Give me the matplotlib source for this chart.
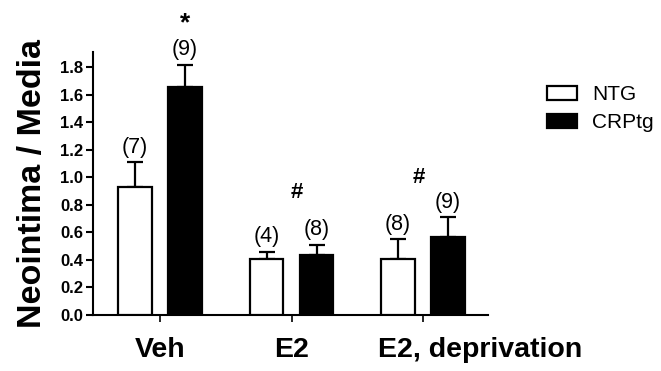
import numpy as np
import matplotlib.pyplot as plt
from matplotlib.transforms import ScaledTranslation

# data
groups = ["Veh", "E2", "E2, deprivation"]
ntg_mean = [0.93, 0.41, 0.405]
ntg_err = [0.18, 0.05, 0.145]
crp_mean = [1.655, 0.436, 0.57]
crp_err = [0.165, 0.075, 0.14]
ntg_n = ["(7)", "(4)", "(8)"]
crp_n = ["(9)", "(8)", "(9)"]
marks = ["*", "#", "#"]

plt.rcParams["font.family"] = ["Liberation Sans", "DejaVu Sans"]

fig = plt.figure(figsize=(6.61, 3.71), dpi=100)
ax = fig.add_axes([0.1407, 0.151, 0.597, 0.709])

x = np.arange(len(groups))
offset = 0.19
width = 0.255

err_kw = dict(elinewidth=1.6, capthick=1.6, capsize=6, ecolor="black")

ax.bar(x - offset, ntg_mean, width, color="white", edgecolor="black",
       linewidth=1.6, label="NTG", zorder=3)
ax.errorbar(x - offset, ntg_mean, yerr=[np.zeros(3), ntg_err], fmt="none",
            zorder=2, **err_kw)
ax.bar(x + offset, crp_mean, width, color="black", edgecolor="black",
       linewidth=1.6, label="CRPtg", zorder=3)
ax.errorbar(x + offset, crp_mean, yerr=[np.zeros(3), crp_err], fmt="none",
            zorder=2, **err_kw)

# n labels above the error bars
for i in range(len(groups)):
    ax.text(x[i] - offset, ntg_mean[i] + ntg_err[i] + 0.035, ntg_n[i],
            ha="center", va="bottom", fontsize=15.5, clip_on=False)
    ax.text(x[i] + offset, crp_mean[i] + crp_err[i] + 0.035, crp_n[i],
            ha="center", va="bottom", fontsize=15.5, clip_on=False)

# significance marks
ax.text(x[0] + offset, 2.12, marks[0], ha="center", va="center",
        fontsize=19, fontweight="bold", clip_on=False)
ax.text(x[1] + 0.04, 0.89, marks[1], ha="center", va="center",
        fontsize=16, fontweight="bold")
ax.text(x[2] - 0.03, 1.0, marks[2], ha="center", va="center",
        fontsize=16, fontweight="bold")

ax.set_xlim(-0.51, 2.49)
ax.set_ylim(0, 1.913)
yt = np.arange(0, 1.81, 0.2)
ax.set_yticks(yt)
ax.set_yticklabels([f"{v:.1f}" for v in yt], fontsize=12, fontweight="bold")
ax.set_xticks(x)
ax.set_xticklabels(groups[:2] + [""], fontsize=20.5, fontweight="bold")

# the last group label sits to the right of its tick in the reference
label_shift = ScaledTranslation(0.57, -16 / 72, fig.dpi_scale_trans)
ax.text(x[2], 0, groups[2], ha="center", va="top", fontsize=20.5,
        fontweight="bold", transform=ax.get_xaxis_transform() + label_shift,
        clip_on=False)

ax.set_ylabel("Neointima / Media", fontsize=24.5, fontweight="bold",
              labelpad=9)

for side in ["top", "right"]:
    ax.spines[side].set_visible(False)
for side in ["left", "bottom"]:
    ax.spines[side].set_linewidth(1.5)

ax.tick_params(axis="y", length=5, width=1.5, pad=2)
ax.tick_params(axis="x", length=5, width=1.2, pad=11)

fig.legend(*ax.get_legend_handles_labels(), loc="upper left",
           bbox_to_anchor=(547 / 661, 1 - 85 / 371), frameon=False,
           fontsize=15, handlelength=1.45, handleheight=0.65,
           handletextpad=0.7, labelspacing=0.45, borderpad=0,
           borderaxespad=0)

fig.savefig("out.png", dpi=100)
plt.close(fig)
